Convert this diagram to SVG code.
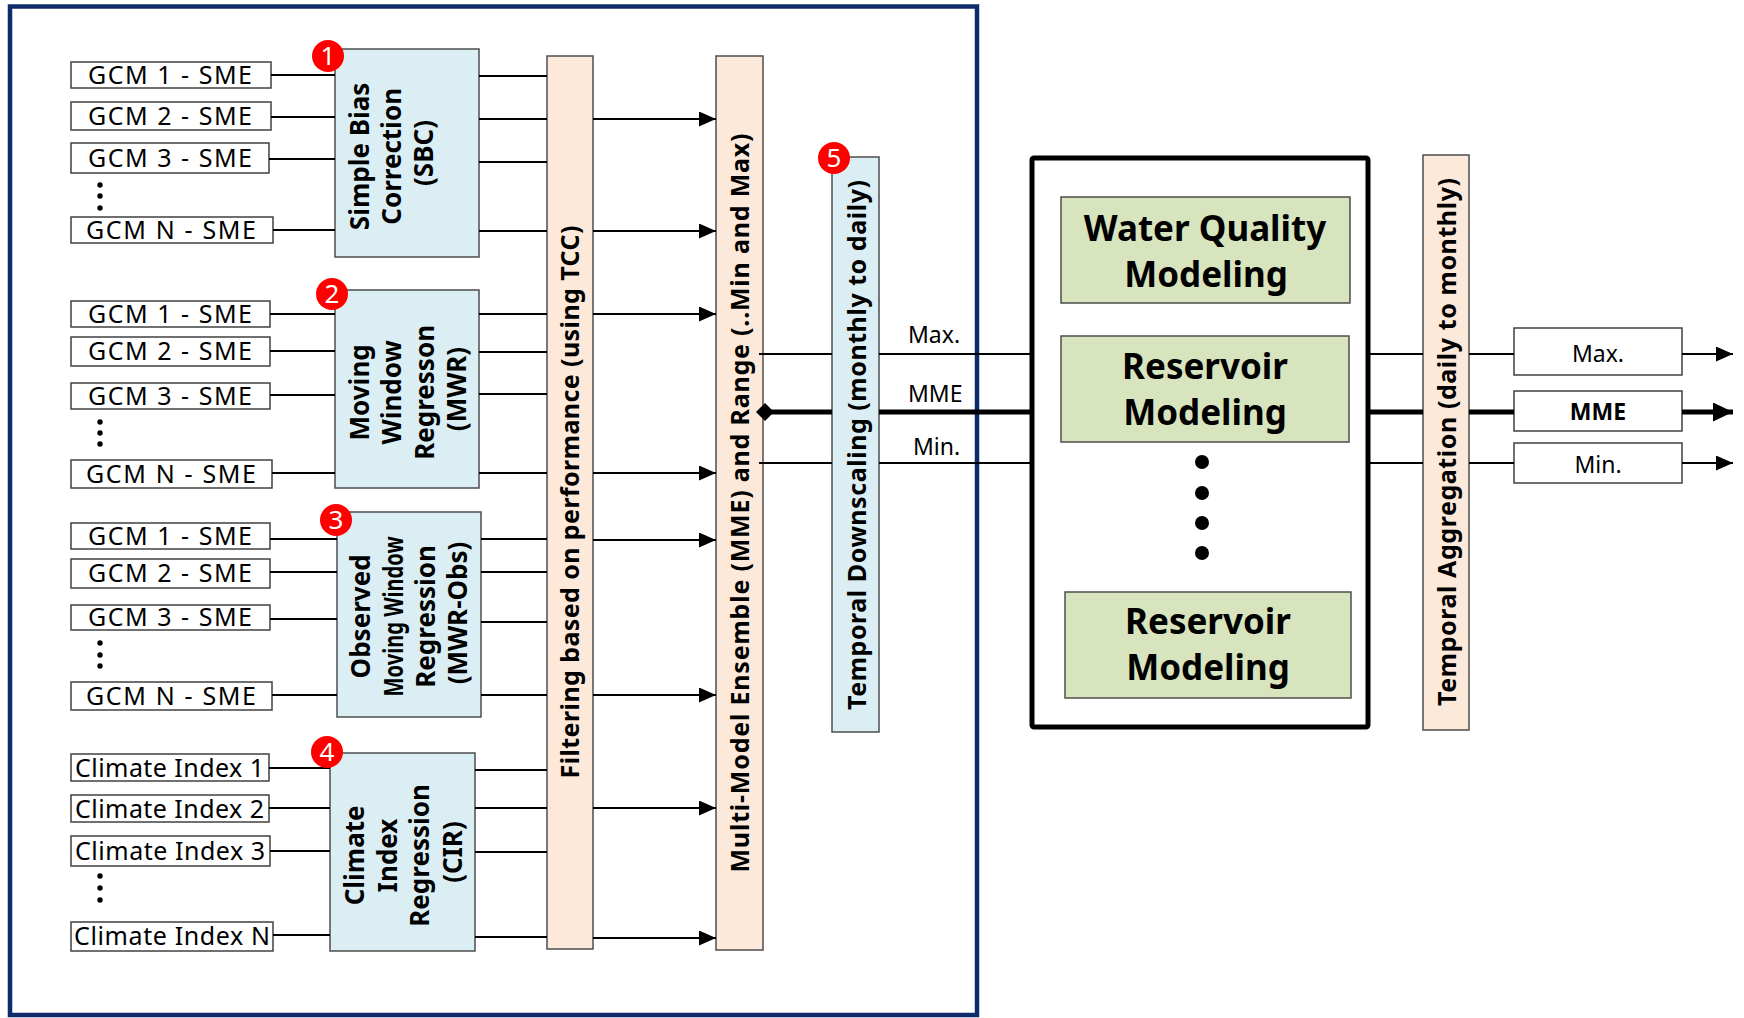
<svg xmlns="http://www.w3.org/2000/svg" width="1744" height="1018" viewBox="0 0 1744 1018">
  <defs>
    <marker id="arr" markerUnits="userSpaceOnUse" markerWidth="17" markerHeight="15" refX="17" refY="7.5" orient="auto">
      <path d="M0,0 L17,7.5 L0,15 Z" fill="#000"/>
    </marker>
    <marker id="arrB" markerUnits="userSpaceOnUse" markerWidth="20" markerHeight="19" refX="20" refY="9.5" orient="auto">
      <path d="M0,0 L20,9.5 L0,19 Z" fill="#000"/>
    </marker>
  </defs>
  <style>
    text { font-family: "Noto Sans", "Open Sans", "Liberation Sans", sans-serif; fill: #000; }
    .inbox { fill: #fff; stroke: #404040; stroke-width: 1.5; }
    .intext { font-size: 25px; }
    .method { fill: #dbeef4; stroke: #4d4d4d; stroke-width: 1.5; }
    .bar { fill: #fde9d9; stroke: #4d4d4d; stroke-width: 1.5; }
    .model { fill: #d7e4bd; stroke: #4d4d4d; stroke-width: 1.5; }
    .mtext { font-size: 26px; font-weight: bold; text-anchor: middle; }
    .bartext { font-size: 25px; font-weight: bold; text-anchor: middle; }
    .big { font-size: 35px; font-weight: bold; text-anchor: middle; }
    .badge circle { fill: #ff0000; }
    .badge text { fill: #fff; font-size: 26px; text-anchor: middle; }
    .ln { stroke: #000; stroke-width: 2; fill: none; }
    .lnB { stroke: #000; stroke-width: 5; fill: none; }
    .dot { fill: #000; }
    .flow { font-size: 23px; }
  </style>

  <!-- outer frame around the downscaling stages -->
  <rect x="10" y="6.5" width="967" height="1008.5" fill="#fff" stroke="#0e2c6c" stroke-width="4.5"/>

  <!-- input series, group 1 -->
  <g id="in-g1">
    <rect class="inbox" x="71" y="62" width="200" height="26"/>
    <text class="intext" x="170" y="84" text-anchor="middle" textLength="164">GCM 1 - SME</text>
    <rect class="inbox" x="71" y="102" width="200" height="28"/>
    <text class="intext" x="170" y="125" text-anchor="middle" textLength="164">GCM 2 - SME</text>
    <rect class="inbox" x="71" y="143" width="198" height="30"/>
    <text class="intext" x="170" y="167" text-anchor="middle" textLength="164">GCM 3 - SME</text>
    <circle class="dot" cx="100" cy="185" r="2.7"/>
    <circle class="dot" cx="100" cy="196" r="2.7"/>
    <circle class="dot" cx="100" cy="208" r="2.7"/>
    <rect class="inbox" x="71" y="217" width="202" height="26"/>
    <text class="intext" x="171" y="239" text-anchor="middle" textLength="170">GCM N - SME</text>
  </g>

  <!-- input series, group 2 -->
  <g id="in-g2">
    <rect class="inbox" x="71" y="301" width="199" height="26"/>
    <text class="intext" x="170" y="323" text-anchor="middle" textLength="164">GCM 1 - SME</text>
    <rect class="inbox" x="71" y="337" width="199" height="29"/>
    <text class="intext" x="170" y="360" text-anchor="middle" textLength="164">GCM 2 - SME</text>
    <rect class="inbox" x="71" y="383" width="199" height="26"/>
    <text class="intext" x="170" y="405" text-anchor="middle" textLength="164">GCM 3 - SME</text>
    <circle class="dot" cx="100" cy="422" r="2.7"/>
    <circle class="dot" cx="100" cy="433" r="2.7"/>
    <circle class="dot" cx="100" cy="444" r="2.7"/>
    <rect class="inbox" x="71" y="460" width="201" height="28"/>
    <text class="intext" x="171" y="483" text-anchor="middle" textLength="170">GCM N - SME</text>
  </g>

  <!-- input series, group 3 -->
  <g id="in-g3">
    <rect class="inbox" x="71" y="523" width="199" height="26"/>
    <text class="intext" x="170" y="545" text-anchor="middle" textLength="164">GCM 1 - SME</text>
    <rect class="inbox" x="71" y="559" width="199" height="29"/>
    <text class="intext" x="170" y="582" text-anchor="middle" textLength="164">GCM 2 - SME</text>
    <rect class="inbox" x="71" y="605" width="199" height="25"/>
    <text class="intext" x="170" y="626" text-anchor="middle" textLength="164">GCM 3 - SME</text>
    <circle class="dot" cx="100" cy="643" r="2.7"/>
    <circle class="dot" cx="100" cy="655" r="2.7"/>
    <circle class="dot" cx="100" cy="666" r="2.7"/>
    <rect class="inbox" x="71" y="682" width="201" height="28"/>
    <text class="intext" x="171" y="705" text-anchor="middle" textLength="170">GCM N - SME</text>
  </g>

  <!-- input series, group 4 -->
  <g id="in-g4">
    <rect class="inbox" x="71" y="754" width="198" height="27"/>
    <text class="intext" x="75" y="777" textLength="189">Climate Index 1</text>
    <rect class="inbox" x="71" y="795" width="198" height="27"/>
    <text class="intext" x="75" y="818" textLength="189">Climate Index 2</text>
    <rect class="inbox" x="71" y="836" width="199" height="30"/>
    <text class="intext" x="75" y="860" textLength="190">Climate Index 3</text>
    <circle class="dot" cx="100" cy="876" r="2.7"/>
    <circle class="dot" cx="100" cy="888" r="2.7"/>
    <circle class="dot" cx="100" cy="900" r="2.7"/>
    <rect class="inbox" x="71" y="922" width="202" height="29"/>
    <text class="intext" x="74" y="945" textLength="196">Climate Index N</text>
  </g>

  <!-- stage 1: simple bias correction -->
  <g id="sbc">
    <rect class="method" x="335" y="49" width="144" height="208"/>
    <text class="mtext" transform="translate(0,153) rotate(-90)">
      <tspan x="0" y="369">Simple Bias</tspan>
      <tspan x="0" y="401">Correction</tspan>
      <tspan x="0" y="433">(SBC)</tspan>
    </text>
  </g>

  <!-- stage 2: moving window regression -->
  <g id="mwr">
    <rect class="method" x="335" y="290" width="144" height="198"/>
    <text class="mtext" transform="translate(0,389) rotate(-90)">
      <tspan x="0" y="369">Moving</tspan>
      <tspan x="0" y="401">Window</tspan>
      <tspan x="0" y="434">Regresson</tspan>
      <tspan x="0" y="466">(MWR)</tspan>
    </text>
  </g>

  <!-- stage 3: observed moving window regression -->
  <g id="mwr-obs">
    <rect class="method" x="337" y="512" width="144" height="205"/>
    <text class="mtext" transform="translate(0,613) rotate(-90)">
      <tspan x="0" y="370">Observed</tspan>
      <tspan x="0" y="403" textLength="160" lengthAdjust="spacingAndGlyphs">Moving Window</tspan>
      <tspan x="0" y="435">Regression</tspan>
      <tspan x="0" y="467">(MWR-Obs)</tspan>
    </text>
  </g>

  <!-- stage 4: climate index regression -->
  <g id="cir">
    <rect class="method" x="330" y="753" width="145" height="198"/>
    <text class="mtext" transform="translate(0,852) rotate(-90)">
      <tspan x="0" y="364">Climate</tspan>
      <tspan x="0" y="397">Index</tspan>
      <tspan x="0" y="429">Regression</tspan>
      <tspan x="0" y="462">(CIR)</tspan>
    </text>
  </g>

  <!-- TCC filtering bar -->
  <g id="filter">
    <rect class="bar" x="547" y="56" width="46" height="893"/>
    <text class="bartext" transform="translate(0,502) rotate(-90)" x="0" y="579" textLength="553">Filtering based on performance (using TCC)</text>
  </g>

  <!-- multi-model ensemble bar -->
  <g id="mme">
    <rect class="bar" x="716" y="56" width="47" height="894"/>
    <text class="bartext" transform="translate(0,503) rotate(-90)" x="0" y="749" textLength="739">Multi-Model Ensemble (MME) and Range (..Min and Max)</text>
  </g>

  <!-- stage 5: temporal downscaling -->
  <g id="downscaling">
    <rect class="method" x="832" y="157" width="47" height="575"/>
    <text class="bartext" transform="translate(0,445) rotate(-90)" x="0" y="866" textLength="530">Temporal Downscaling (monthly to daily)</text>
  </g>

  <!-- flow labels -->
  <g id="flow-labels">
    <text class="flow" x="908" y="343">Max.</text>
    <text class="flow" x="908" y="402">MME</text>
    <text class="flow" x="913" y="455">Min.</text>
  </g>

  <!-- impact models -->
  <g id="models">
    <rect x="1032" y="158" width="336" height="569" rx="2" fill="#fff" stroke="#000" stroke-width="5"/>
  </g>
  <g id="water-quality">
    <rect class="model" x="1061" y="197" width="289" height="106"/>
    <text class="big"><tspan x="1205" y="241">Water Quality</tspan><tspan x="1206" y="287">Modeling</tspan></text>
  </g>
  <g id="reservoir-1">
    <rect class="model" x="1061" y="336" width="288" height="106"/>
    <text class="big"><tspan x="1205" y="379">Reservoir</tspan><tspan x="1205" y="425">Modeling</tspan></text>
  </g>
  <g id="model-dots">
    <circle class="dot" cx="1202" cy="462" r="7"/>
    <circle class="dot" cx="1202" cy="493" r="7"/>
    <circle class="dot" cx="1202" cy="523" r="7"/>
    <circle class="dot" cx="1202" cy="553" r="7"/>
  </g>
  <g id="reservoir-n">
    <rect class="model" x="1065" y="592" width="286" height="106"/>
    <text class="big"><tspan x="1208" y="634">Reservoir</tspan><tspan x="1208" y="680">Modeling</tspan></text>
  </g>

  <!-- temporal aggregation -->
  <g id="aggregation">
    <rect class="bar" x="1423" y="155" width="46" height="575"/>
    <text class="bartext" transform="translate(0,442) rotate(-90)" x="0" y="1456" textLength="528">Temporal Aggregation (daily to monthly)</text>
  </g>

  <!-- outputs -->
  <g id="out-max">
    <rect class="inbox" x="1514" y="328" width="168" height="47"/>
    <text class="flow" x="1598" y="362" text-anchor="middle">Max.</text>
  </g>
  <g id="out-mme">
    <rect class="inbox" x="1514" y="391" width="168" height="40"/>
    <text class="flow" x="1598" y="420" text-anchor="middle" font-weight="bold">MME</text>
  </g>
  <g id="out-min">
    <rect class="inbox" x="1514" y="443" width="168" height="40"/>
    <text class="flow" x="1598" y="473" text-anchor="middle">Min.</text>
  </g>

  <!-- connectors (drawn over the boxes; every segment stops at a box edge) -->
  <g id="connectors">
    <!-- group 1: inputs to SBC -->
    <path class="ln" d="M271,75 H335 M271,117 H335 M269,159 H335 M273,230 H335"/>
    <path class="ln" d="M479,76 H547 M479,119 H547 M479,162 H547 M479,231 H547"/>
    <path class="ln" d="M593,119 H716" marker-end="url(#arr)"/>
    <path class="ln" d="M593,231 H716" marker-end="url(#arr)"/>
    <!-- group 2: inputs to MWR -->
    <path class="ln" d="M270,314 H335 M270,351 H335 M270,395 H335 M272,473 H335"/>
    <path class="ln" d="M479,314 H547 M479,352 H547 M479,394 H547 M479,473 H547"/>
    <path class="ln" d="M593,314 H716" marker-end="url(#arr)"/>
    <path class="ln" d="M593,473 H716" marker-end="url(#arr)"/>
    <!-- group 3: inputs to MWR-Obs -->
    <path class="ln" d="M270,539 H337 M270,572 H337 M270,619 H337 M272,695 H337"/>
    <path class="ln" d="M481,539 H547 M481,572 H547 M481,622 H547 M481,695 H547"/>
    <path class="ln" d="M593,540 H716" marker-end="url(#arr)"/>
    <path class="ln" d="M593,695 H716" marker-end="url(#arr)"/>
    <!-- group 4: climate indices to CIR -->
    <path class="ln" d="M269,768 H330 M269,808 H330 M270,851 H330 M273,935 H330"/>
    <path class="ln" d="M475,770 H547 M475,808 H547 M475,852 H547 M475,937 H547"/>
    <path class="ln" d="M593,808 H716" marker-end="url(#arr)"/>
    <path class="ln" d="M593,938 H716" marker-end="url(#arr)"/>

    <!-- ensemble outputs: Max / MME / Min -->
    <path class="ln" d="M759,354 H832 M879,354 H1030 M1370,354 H1423 M1469,354 H1514"/>
    <path class="lnB" d="M765,412 H832 M879,412 H1030 M1370,412 H1423 M1469,412 H1514"/>
    <path class="ln" d="M759,463 H832 M879,463 H1030 M1370,463 H1423 M1469,463 H1514"/>
    <polygon points="756,412 765,403 774,412 765,421" fill="#000"/>
    <path class="ln" d="M1682,354 H1733" marker-end="url(#arr)"/>
    <path class="lnB" d="M1682,412 H1733" marker-end="url(#arrB)"/>
    <path class="ln" d="M1682,463 H1733" marker-end="url(#arr)"/>
  </g>

  <!-- step badges -->
  <g id="badge-1" class="badge"><circle cx="328" cy="56" r="16"/><text x="328" y="65">1</text></g>
  <g id="badge-2" class="badge"><circle cx="332" cy="294" r="16"/><text x="332" y="303">2</text></g>
  <g id="badge-3" class="badge"><circle cx="336" cy="520" r="16"/><text x="336" y="529">3</text></g>
  <g id="badge-4" class="badge"><circle cx="327" cy="752" r="16"/><text x="327" y="761">4</text></g>
  <g id="badge-5" class="badge"><circle cx="834" cy="158" r="16"/><text x="834" y="167">5</text></g>
</svg>
